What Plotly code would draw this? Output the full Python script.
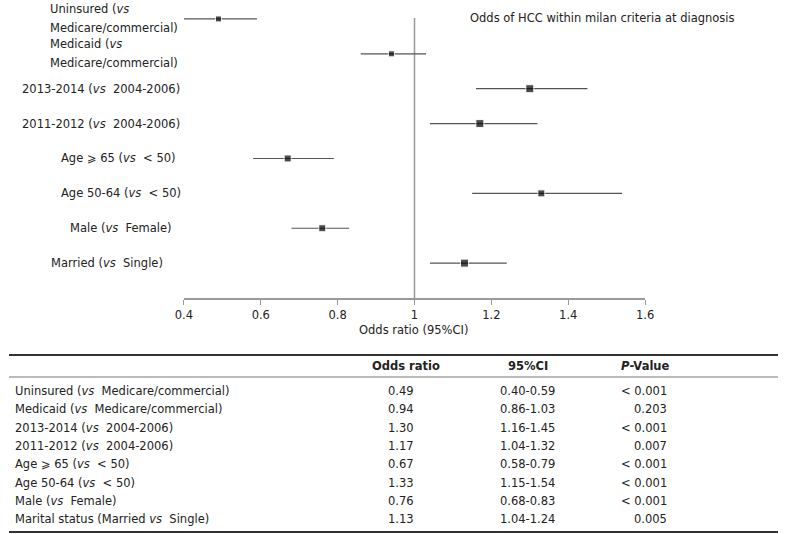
import plotly.graph_objects as go

# forest plot rows (top to bottom); two-line labels split by "|"
plot_labels = [
    "Uninsured (<i>vs</i>|Medicare/commercial)",
    "Medicaid (<i>vs</i>|Medicare/commercial)",
    "2013-2014 (<i>vs</i>\u00a0 2004-2006)",
    "2011-2012 (<i>vs</i>\u00a0 2004-2006)",
    "Age \u2a7e 65 (<i>vs</i>\u00a0 < 50)",
    "Age 50-64 (<i>vs</i>\u00a0 < 50)",
    "Male (<i>vs</i>\u00a0 Female)",
    "Married (<i>vs</i>\u00a0 Single)",
]
table_labels = [
    "Uninsured (<i>vs</i>\u00a0 Medicare/commercial)",
    "Medicaid (<i>vs</i>\u00a0 Medicare/commercial)",
    "2013-2014 (<i>vs</i>\u00a0 2004-2006)",
    "2011-2012 (<i>vs</i>\u00a0 2004-2006)",
    "Age \u2a7e 65 (<i>vs</i>\u00a0 < 50)",
    "Age 50-64 (<i>vs</i>\u00a0 < 50)",
    "Male (<i>vs</i>\u00a0 Female)",
    "Marital status (Married <i>vs</i>\u00a0 Single)",
]
odds = [0.49, 0.94, 1.30, 1.17, 0.67, 1.33, 0.76, 1.13]
ci_low = [0.40, 0.86, 1.16, 1.04, 0.58, 1.15, 0.68, 1.04]
ci_high = [0.59, 1.03, 1.45, 1.32, 0.79, 1.54, 0.83, 1.24]
p_values = ["< 0.001", "0.203", "< 0.001", "0.007", "< 0.001", "< 0.001", "< 0.001", "0.005"]
x_ticks = [0.4, 0.6, 0.8, 1.0, 1.2, 1.4, 1.6]
x_tick_text = ["0.4", "0.6", "0.8", "1", "1.2", "1.4", "1.6"]

W, H = 787, 534
FONT = "DejaVu Sans"
TXT = "#222222"

def px(x):
    return x / W

def py(y):
    return 1 - y / H

rows = list(range(len(odds)))
marker_px = [6, 6, 8, 8, 7, 7, 7, 8]
label_cx = [40, 40, 94, 94, 112, 115, 115, 100]

fig = go.Figure()
fig.add_trace(go.Scatter(
    x=odds,
    y=rows,
    mode="markers",
    marker=dict(symbol="square", color="black", size=marker_px),
    error_x=dict(
        type="data",
        symmetric=False,
        array=[h - o for h, o in zip(ci_high, odds)],
        arrayminus=[o - l for o, l in zip(odds, ci_low)],
        color="#555555",
        thickness=1.2,
        width=0,
    ),
    showlegend=False,
    hoverinfo="skip",
))

# reference line at OR = 1
fig.add_shape(type="line", xref="x", yref="y", x0=1, x1=1, y0=-0.03, y1=len(odds),
              line=dict(color="#999999", width=1.5), layer="below")

annotations = []
for i, lab in enumerate(plot_labels):
    parts = lab.split("|")
    if len(parts) == 2:
        for part, shift in zip(parts, [9.5, -9.5]):
            annotations.append(dict(
                x=px(label_cx[i]), y=i, xref="paper", yref="y", text=part, yshift=shift,
                showarrow=False, xanchor="left", yanchor="middle",
                font=dict(family=FONT, size=11.5, color=TXT),
            ))
    else:
        annotations.append(dict(
            x=px(label_cx[i]), y=i, xref="paper", yref="y", text=lab,
            showarrow=False, xanchor="center", yanchor="middle",
            font=dict(family=FONT, size=11.5, color=TXT),
        ))

annotations.append(dict(
    x=px(607), y=py(18), xref="paper", yref="paper",
    text="Odds of HCC within milan criteria at diagnosis",
    showarrow=False, xanchor="center", yanchor="middle",
    font=dict(family=FONT, size=11.5, color=TXT),
))
annotations.append(dict(
    x=px(414), y=py(330), xref="paper", yref="paper", text="Odds ratio (95%CI)",
    showarrow=False, xanchor="center", yanchor="middle",
    font=dict(family=FONT, size=11.5, color=TXT),
))

# table
head_y = 366
row_y0, row_dy = 391, 18.3
for txt, cx in [("<b>Odds ratio</b>", 406), ("<b>95%CI</b>", 531), ("<b><i>P</i>-Value</b>", 651)]:
    annotations.append(dict(
        x=px(cx), y=py(head_y), xref="paper", yref="paper", text=txt,
        showarrow=False, xanchor="center", yanchor="middle",
        font=dict(family=FONT, size=11.5, color=TXT),
    ))

for i in rows:
    yy = py(row_y0 + row_dy * i)
    cells = [
        (table_labels[i], 4, "left"),
        ("%.2f" % odds[i], 401, "center"),
        ("%.2f-%.2f" % (ci_low[i], ci_high[i]), 531, "center"),
        (p_values[i], 675, "right"),
    ]
    for txt, cx, anchor in cells:
        annotations.append(dict(
            x=px(cx), y=yy, xref="paper", yref="paper", text=txt,
            showarrow=False, xanchor=anchor, yanchor="middle",
            font=dict(family=FONT, size=11.5, color=TXT),
        ))

shapes = [
    dict(type="line", xref="paper", yref="paper", x0=0, x1=1, y0=py(355), y1=py(355),
         line=dict(color="#333333", width=2)),
    dict(type="line", xref="paper", yref="paper", x0=0, x1=1, y0=py(377), y1=py(377),
         line=dict(color="#777777", width=1)),
    dict(type="line", xref="paper", yref="paper", x0=0, x1=1, y0=py(532), y1=py(532),
         line=dict(color="#333333", width=2)),
]
for s in shapes:
    fig.add_shape(**s)

fig.update_layout(
    width=W, height=H,
    margin=dict(l=0, r=0, t=0, b=0),
    paper_bgcolor="white", plot_bgcolor="white",
    annotations=annotations,
    font=dict(family=FONT, size=11.5, color=TXT),
    xaxis=dict(
        domain=[px(179), px(651)], range=[0.4, 1.6],
        tickvals=x_ticks, ticktext=x_tick_text,
        showline=True, linecolor="#999999", linewidth=1.5,
        ticks="outside", ticklen=5, tickcolor="#999999", tickwidth=1,
        showgrid=False, zeroline=False,
        tickfont=dict(family=FONT, size=11.5, color=TXT),
    ),
    yaxis=dict(
        domain=[py(298), py(5)], range=[len(odds), -0.4],
        visible=False, showgrid=False, zeroline=False,
    ),
)

# the page body has a default 8px margin; drop it so the figure sits at (0, 0)
fig.write_html("out.html", config={"displayModeBar": False},
               post_script="document.body.style.margin = '0px';")
